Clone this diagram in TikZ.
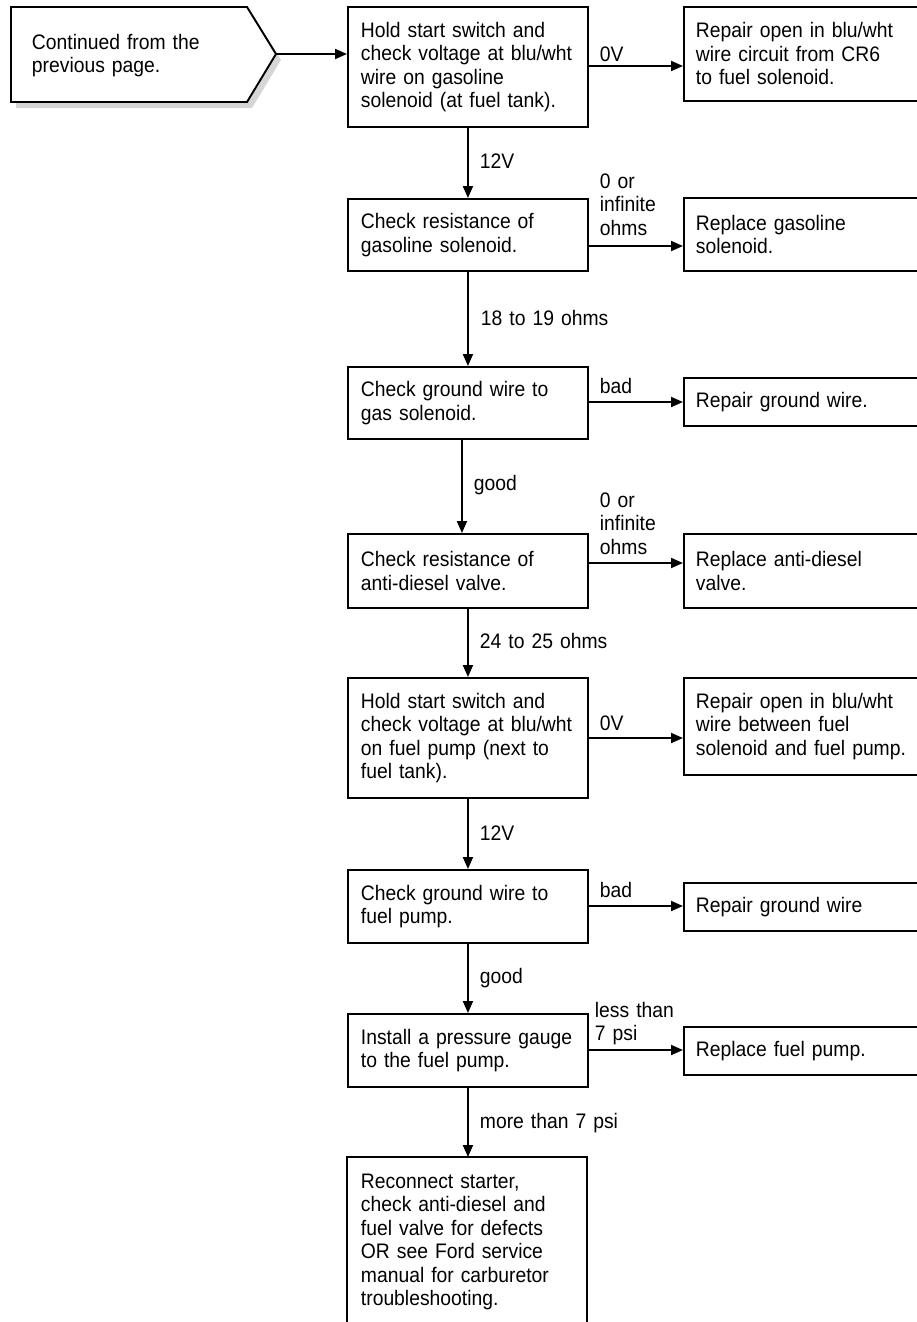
\documentclass[tikz,border=0pt]{standalone}
\usepackage{fontspec}
\setmainfont{Liberation Sans}[FakeStretch=0.92]
\usetikzlibrary{arrows.meta}
\definecolor{shadowgray}{HTML}{D6D6D6}
\begin{document}
\begin{tikzpicture}[x=1pt,y=-1pt, line width=1.9pt,
  font=\fontsize{21}{23.5}\selectfont,
  box/.style={draw, rectangle, anchor=north west, inner xsep=13pt, inner ysep=0pt, text width=214pt, align=left},
  rbox/.style={draw, rectangle, anchor=north west, inner xsep=12pt, inner ysep=0pt, text width=240pt, align=left},
  lbl/.style={anchor=base west, inner sep=0pt, text width=140pt, align=left},
  arr/.style={-{Triangle[length=12pt,width=10pt]}, line width=1.9pt}]
\useasboundingbox (0,0) rectangle (916,1322);

% start pentagon
\fill[shadowgray] (16,13) -- (252,13) -- (281,60) -- (252,108) -- (16,108) -- cycle;
\draw[fill=white] (11,7) -- (247,7) -- (276,54) -- (247,102) -- (11,102) -- cycle;
\node[lbl, text width=220pt] (cont) at (31,49) {Continued from the\\previous page.};
\coordinate (tip) at (276,54);

% left column
\node[box, minimum height=120pt] (b1) at (347,6) {Hold start switch and\\check voltage at blu/wht\\wire on gasoline\\solenoid (at fuel tank).};
\node[box, minimum height=72pt] (b2) at (347,198) {Check resistance of\\gasoline solenoid.};
\node[box, minimum height=72pt] (b3) at (347,366) {Check ground wire to\\gas solenoid.};
\node[box, minimum height=74pt] (b4) at (347,533) {Check resistance of\\anti-diesel valve.};
\node[box, minimum height=120pt] (b5) at (347,677) {Hold start switch and\\check voltage at blu/wht\\on fuel pump (next to\\fuel tank).};
\node[box, minimum height=73pt] (b6) at (347,869) {Check ground wire to\\fuel pump.};
\node[box, minimum height=73pt] (b7) at (347,1013) {Install a pressure gauge\\to the fuel pump.};
\coordinate (b8tl) at (347,1157);
\coordinate (b8tr) at (587,1157);
\draw (347,1340) -- (b8tl) -- (b8tr) -- (587,1340);
\node[lbl, text width=214pt] (b8) at (360,1188) {Reconnect starter,\\check anti-diesel and\\fuel valve for defects\\OR see Ford service\\manual for carburetor\\troubleshooting.};

% right column
\node[rbox, minimum height=94pt] (r1) at (683,6) {Repair open in blu/wht\\wire circuit from CR6\\to fuel solenoid.};
\node[rbox, minimum height=73pt] (r2) at (683,197) {Replace gasoline\\solenoid.};
\node[rbox, minimum height=48pt] (r3) at (683,377) {Repair ground wire.};
\node[rbox, minimum height=74pt] (r4) at (683,533) {Replace anti-diesel\\valve.};
\node[rbox, minimum height=97pt] (r5) at (683,677) {Repair open in blu/wht\\wire between fuel\\solenoid and fuel pump.};
\node[rbox, minimum height=48pt] (r6) at (683,882) {Repair ground wire};
\node[rbox, minimum height=48pt] (r7) at (683,1026) {Replace fuel pump.};

% horizontal connector levels
\coordinate (h1) at (0,66);
\coordinate (h2) at (0,246);
\coordinate (h3) at (0,402);
\coordinate (h4) at (0,563);
\coordinate (h5) at (0,738);
\coordinate (h6) at (0,906);
\coordinate (h7) at (0,1050);

\draw[arr] (tip) -- (tip -| b1.west);
\draw[arr] (b1.east |- h1) -- (r1.west |- h1);
\draw[arr] (b2.east |- h2) -- (r2.west |- h2);
\draw[arr] (b3.east |- h3) -- (r3.west |- h3);
\draw[arr] (b4.east |- h4) -- (r4.west |- h4);
\draw[arr] (b5.east |- h5) -- (r5.west |- h5);
\draw[arr] (b6.east |- h6) -- (r6.west |- h6);
\draw[arr] (b7.east |- h7) -- (r7.west |- h7);

% vertical connectors
\draw[arr] (b1.south) -- (b2.north);
\draw[arr] (b2.south) -- (b3.north);
\draw[arr] ([xshift=-6pt]b3.south) -- ([xshift=-6pt]b4.north);
\draw[arr] (b4.south) -- (b5.north);
\draw[arr] (b5.south) -- (b6.north);
\draw[arr] (b6.south) -- (b7.north);
\draw[arr] (b7.south) -- (b7.south |- b8tl);

% labels
\node[lbl] (l1) at (599,62) {0V};
\node[lbl] (l2) at (479,168) {12V};
\node[lbl] (l3) at (599,188) {0 or\\infinite\\ohms};
\node[lbl] (l4) at (480,325) {18 to 19 ohms};
\node[lbl] (l5) at (599,393) {bad};
\node[lbl] (l6) at (473,490) {good};
\node[lbl] (l7) at (599,507) {0 or\\infinite\\ohms};
\node[lbl] (l8) at (479,648) {24 to 25 ohms};
\node[lbl] (l9) at (599,730) {0V};
\node[lbl] (l10) at (479,840) {12V};
\node[lbl] (l11) at (599,897) {bad};
\node[lbl] (l12) at (479,983) {good};
\node[lbl] (l13) at (594,1017) {less than\\7 psi};
\node[lbl] (l14) at (479,1128) {more than 7 psi};
\end{tikzpicture}
\end{document}
